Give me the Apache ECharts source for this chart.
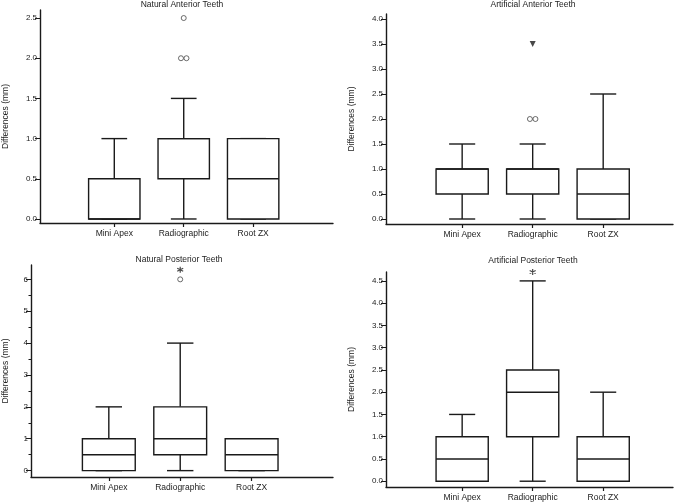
<!DOCTYPE html>
<html>
<head>
<meta charset="utf-8">
<script src="https://cdn.jsdelivr.net/npm/echarts@6/dist/echarts.min.js"></script>
<style>
  html, body { margin: 0; padding: 0; background: #fff; }
  #chart { width: 685px; height: 504px; }
</style>
</head>
<body>
<div id="chart"></div>
<script>
// categories shared by all four panels
var categories = ['Mini Apex', 'Radiographic', 'Root ZX'];

// box data per category: [min, Q1, median, Q3, max]
var naturalAnteriorBoxes = [[0, 0, 0, 0.5, 1.0], [0, 0.5, 1.0, 1.0, 1.5], [0, 0, 0.5, 1.0, 1.0]];
var artificialAnteriorBoxes = [[0, 0.5, 1.0, 1.0, 1.5], [0, 0.5, 1.0, 1.0, 1.5], [0, 0, 0.5, 1.0, 2.5]];
var naturalPosteriorBoxes = [[0, 0, 0.5, 1, 2], [0, 0.5, 1, 2, 4], [0, 0, 0.5, 1, 1]];
var artificialPosteriorBoxes = [[0, 0, 0.5, 1.0, 1.5], [0, 1.0, 2.0, 2.5, 4.5], [0, 0, 0.5, 1.0, 2.0]];

// outliers: [category index, value]
var naturalAnteriorCircles = [[1, 2.0], [1, 2.0], [1, 2.5]];
var artificialAnteriorCircles = [[1, 2.0], [1, 2.0]];
var artificialAnteriorTriangles = [[1, 3.5]];
var naturalPosteriorCircles = [[1, 6]];
var naturalPosteriorStars = [[1, 6.3]];
var artificialPosteriorStars = [[1, 4.7]];

// y tick labels
var anteriorNaturalTicks = [0, 0.5, 1.0, 1.5, 2.0, 2.5];
var anteriorArtificialTicks = [0, 0.5, 1.0, 1.5, 2.0, 2.5, 3.0, 3.5, 4.0];
var posteriorNaturalTicks = [0, 1, 2, 3, 4, 5, 6];
var posteriorNaturalMinor = [0.5, 1.5, 2.5, 3.5, 4.5, 5.5];
var posteriorArtificialTicks = [0, 0.5, 1.0, 1.5, 2.0, 2.5, 3.0, 3.5, 4.0, 4.5];

var FONT = "'Liberation Sans', Arial, sans-serif";
var INK = '#1a1a1a';

var panels = [
  { title: 'Natural Anterior Teeth', titleX: 182, titleY: 0,
    grid: { left: 36, top: 10, width: 297, height: 213 }, x: [-0.07, 4.15], y: [-0.05, 2.6],
    ticks: anteriorNaturalTicks, digits: 1, nameGap: 30,
    boxes: naturalAnteriorBoxes, circles: naturalAnteriorCircles },
  { title: 'Artificial Anterior Teeth', titleX: 533, titleY: 0,
    grid: { left: 386, top: 14, width: 287, height: 210 }, x: [-0.08, 3.99], y: [-0.1, 4.1],
    ticks: anteriorArtificialTicks, digits: 1, nameGap: 30,
    boxes: artificialAnteriorBoxes, circles: artificialAnteriorCircles, triangles: artificialAnteriorTriangles },
  { title: 'Natural Posterior Teeth', titleX: 179, titleY: 255,
    grid: { left: 28, top: 265, width: 305, height: 212 }, x: [-0.09, 4.14], y: [-0.2, 6.45],
    ticks: posteriorNaturalTicks, digits: 0, nameGap: 21, minor: posteriorNaturalMinor,
    boxes: naturalPosteriorBoxes, circles: naturalPosteriorCircles, stars: naturalPosteriorStars },
  { title: 'Artificial Posterior Teeth', titleX: 533, titleY: 256.5,
    grid: { left: 386, top: 272, width: 287, height: 215 }, x: [-0.08, 3.99], y: [-0.13, 4.7],
    ticks: posteriorArtificialTicks, digits: 1, nameGap: 30,
    boxes: artificialPosteriorBoxes, stars: artificialPosteriorStars }
];

var STAR = 'path://M0,-5L0,5M-4.33,-2.5L4.33,2.5M-4.33,2.5L4.33,-2.5';

function renderBox(params, api) {
  var x = api.value(0);
  var cx = api.coord([x, 0])[0];
  var ys = [1, 2, 3, 4, 5].map(function (i) { return api.coord([x, api.value(i)])[1]; });
  var half = api.size([1, 0])[0] * 0.37;
  var cap = half / 2;
  var line = { stroke: INK, lineWidth: 1.4 };
  var kids = [
    { type: 'line', shape: { x1: cx, y1: ys[3], x2: cx, y2: ys[4] }, style: line },
    { type: 'line', shape: { x1: cx, y1: ys[0], x2: cx, y2: ys[1] }, style: line },
    { type: 'line', shape: { x1: cx - cap, y1: ys[4], x2: cx + cap, y2: ys[4] }, style: line },
    { type: 'line', shape: { x1: cx - cap, y1: ys[0], x2: cx + cap, y2: ys[0] }, style: line },
    { type: 'rect', shape: { x: cx - half, y: ys[3], width: half * 2, height: ys[1] - ys[3] },
      style: { fill: '#fff', stroke: INK, lineWidth: 1.4 } },
    { type: 'line', shape: { x1: cx - half, y1: ys[2], x2: cx + half, y2: ys[2] }, style: line }
  ];
  return { type: 'group', children: kids };
}

// spread tied outliers side by side
function spread(points) {
  var seen = {};
  points.forEach(function (p) { var k = p.join('|'); seen[k] = (seen[k] || 0) + 1; });
  var used = {};
  return points.map(function (p) {
    var k = p.join('|');
    var n = seen[k];
    var i = used[k] = (used[k] || 0) + 1;
    return { value: [p[0] + 1, p[1]], symbolOffset: [(i - 1 - (n - 1) / 2) * 5.5, 0] };
  });
}

var option = { animation: false, title: [], grid: [], xAxis: [], yAxis: [], series: [] };

panels.forEach(function (p, k) {
  option.title.push({
    text: p.title, left: p.titleX, top: p.titleY, textAlign: 'center', padding: 0,
    textStyle: { fontFamily: FONT, fontSize: 8.5, fontWeight: 'normal', color: '#222' }
  });
  option.grid.push(p.grid);
  option.xAxis.push({
    type: 'value', gridIndex: k, min: p.x[0], max: p.x[1], splitLine: { show: false },
    axisLine: { onZero: false, lineStyle: { color: INK, width: 1.4 } },
    axisTick: { customValues: [1, 2, 3], length: 4, lineStyle: { color: INK, width: 1.2 } },
    axisLabel: { customValues: [1, 2, 3], margin: 6, fontFamily: FONT, fontSize: 8.5, color: '#222',
      formatter: function (v) { return categories[Math.round(v) - 1] || ''; } }
  });
  option.yAxis.push({
    type: 'value', gridIndex: k, min: p.y[0], max: p.y[1], splitLine: { show: false },
    name: 'Differences (mm)', nameLocation: 'middle', nameGap: p.nameGap,
    nameTextStyle: { fontFamily: FONT, fontSize: 8.5, color: '#222' },
    axisLine: { show: true, onZero: false, lineStyle: { color: INK, width: 1.4 } },
    axisTick: { show: true, customValues: p.ticks, length: 5, lineStyle: { color: INK, width: 1 } },
    axisLabel: { customValues: p.ticks, margin: 3, fontFamily: FONT, fontSize: 8, color: '#222',
      formatter: (function (d) { return function (v) { return v.toFixed(d); }; })(p.digits) }
  });
  option.series.push({
    type: 'custom', xAxisIndex: k, yAxisIndex: k, renderItem: renderBox, clip: false,
    encode: { x: 0, y: [1, 2, 3, 4, 5] },
    data: p.boxes.map(function (b, i) { return [i + 1].concat(b); })
  });
  if (p.circles) {
    option.series.push({
      type: 'scatter', xAxisIndex: k, yAxisIndex: k, symbol: 'circle', symbolSize: 5,
      itemStyle: { color: '#fff', borderColor: '#333', borderWidth: 0.9 }, clip: false,
      data: spread(p.circles)
    });
  }
  if (p.triangles) {
    option.series.push({
      type: 'scatter', xAxisIndex: k, yAxisIndex: k, symbol: 'triangle', symbolRotate: 180, symbolSize: 6,
      itemStyle: { color: INK }, clip: false, data: spread(p.triangles)
    });
  }
  if (p.stars) {
    option.series.push({
      type: 'scatter', xAxisIndex: k, yAxisIndex: k, symbol: STAR, symbolSize: 6,
      itemStyle: { color: 'none', borderColor: INK, borderWidth: 1.2 }, clip: false, data: spread(p.stars)
    });
  }
});

// minor ticks on the natural posterior y axis
option.yAxis.push({
  type: 'value', gridIndex: 2, position: 'left', min: panels[2].y[0], max: panels[2].y[1],
  splitLine: { show: false }, axisLine: { show: false, onZero: false }, axisLabel: { show: false },
  axisTick: { show: true, customValues: posteriorNaturalMinor, length: 2.5, lineStyle: { color: INK, width: 1 } }
});

var chart = echarts.init(document.getElementById('chart'));
chart.setOption(option);
window.addEventListener('resize', chart.resize);
</script>
</body>
</html>
